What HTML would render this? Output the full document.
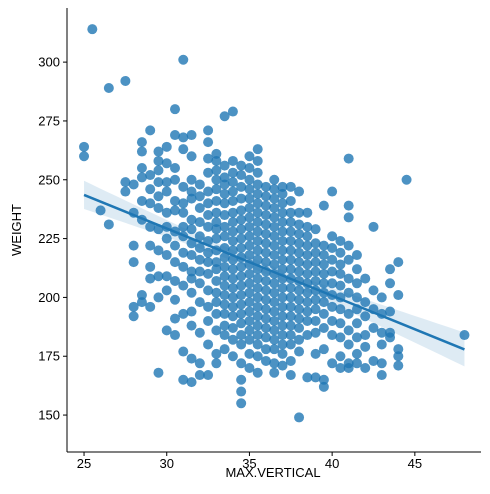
<!DOCTYPE html>
<html><head><meta charset="utf-8"><style>
body{margin:0;background:#fff;}
svg text{font-family:"Liberation Sans","DejaVu Sans",sans-serif;font-size:13px;fill:#000;}
</style></head><body>
<svg id="chart" width="490" height="489" xmlns="http://www.w3.org/2000/svg">
<g id="band"></g>
<g id="pts"></g>
<g id="reg"></g>
<g id="axes"></g>
<text x="273" y="477" text-anchor="middle">MAX.VERTICAL</text>
<text transform="translate(21,230) rotate(-90)" text-anchor="middle">WEIGHT</text>
</svg>
<script>
const xCols = [25,25.5,26,26.5,27.5,28,28.5,29,29.5,30,30.5,31,31.5,32,32.5,33,33.5,34,34.5,35,35.5,36,36.5,37,37.5,38,38.5,39,39.5,40,40.5,41,41.5,42,42.5,43,43.5,44,44.5,48];
const weights = [
[264,260],[314],[237],[289,231],[292,249,245],[248,236,222,215,196,192],
[266,262,255,251,241,233,201,198],[271,252,246,240,230,222,213,208,196],
[262,258,254,249,243,238,229,220,209,200,168],[264,257,249,245,236,230,225,218,209,203,186],
[280,269,255,250,241,237,228,222,215,207,199,191,184],
[301,268,263,247,240,236,230,226,219,213,205,193,177,165],
[269,260,250,245,242,233,229,223,218,211,208,202,194,188,174,164],
[248,243,238,232,226,221,216,211,206,198,185,172,167],
[271,266,259,253,245,240,235,230,224,219,215,210,203,196,190,180,167],
[261,258,254,250,246,241,236,232,229,225,220,215,212,207,202,198,193,186,176,172],
[277,256,251,248,244,240,235,230,226,221,217,213,209,205,201,197,193,188,184,178],
[279,258,253,249,245,241,236,232,228,224,220,216,212,208,204,200,196,192,187,182,175],
[256,252,247,242,237,233,229,225,221,217,213,209,205,201,197,193,189,184,180,172,165,160,155],
[260,255,250,246,242,238,234,230,226,222,218,214,210,206,202,198,194,190,186,182,176,170],
[263,258,253,248,244,240,236,232,228,224,220,216,212,208,204,200,196,192,188,184,180,175,168],
[247,243,239,235,231,227,223,219,215,211,207,203,199,195,191,187,183,178,173],
[250,246,242,238,234,230,226,222,218,214,210,206,202,198,194,190,186,182,178,172,168],
[247,244,240,236,232,228,224,220,216,212,208,204,200,196,192,188,184,180,176,171],
[247,241,236,232,228,224,220,216,212,208,204,200,196,192,188,184,180,173,167],
[245,236,231,227,223,219,215,211,207,203,199,195,191,187,182,177,149],
[236,230,226,222,218,214,210,206,202,198,194,190,184,166],
[229,223,219,215,211,207,203,199,195,190,185,176,166],
[239,222,218,214,210,206,202,198,193,187,178,165,162],
[245,226,221,216,211,206,201,196,190,184,172],
[224,219,214,210,205,200,195,189,183,175,170],
[259,239,234,222,216,208,202,193,186,180,172,170],
[218,212,206,200,195,189,183,176,172],
[208,198,192,184,179,170],[230,203,195,187,173],[200,193,185,180,172,167],
[212,206,194,185,183],[215,201,178,175,171],[250],[184]];
const xTicks = [25,30,35,40,45];
const yTicks = [150,175,200,225,250,275,300];

const NS="http://www.w3.org/2000/svg";
const X0=67,X1=481,Y0=8,Y1=452;
const xMin=23.97,xMax=49.0,yMin=134.3,yMax=323.0;
const sx=v=>X0+(v-xMin)/(xMax-xMin)*(X1-X0);
const sy=v=>Y1-(v-yMin)/(yMax-yMin)*(Y1-Y0);
function mk(tag,attrs,parent){const e=document.createElementNS(NS,tag);for(const k in attrs)e.setAttribute(k,attrs[k]);parent.appendChild(e);return e;}

const xs=[],ys=[];
xCols.forEach((x,i)=>weights[i].forEach(w=>{xs.push(x);ys.push(w);}));
const pts=document.getElementById('pts');
xs.forEach((x,i)=>{
  const c=mk('circle',{cx:sx(x),cy:sy(ys[i]),r:5,fill:'#1f77b4','fill-opacity':0.8},pts);
  
  
});
const n=xs.length,mx=xs.reduce((a,b)=>a+b)/n,my=ys.reduce((a,b)=>a+b)/n;
let sxx=0,sxy=0;xs.forEach((x,i)=>{sxx+=(x-mx)**2;sxy+=(x-mx)*(ys[i]-my);});
const b=sxy/sxx,a=my-b*mx;
let sse=0;xs.forEach((x,i)=>{sse+=(ys[i]-a-b*x)**2;});
const s=Math.sqrt(sse/(n-2));
const lo=Math.min(...xs),hi=Math.max(...xs);
const up=[],dn=[];
for(let k=0;k<=50;k++){const x=lo+(hi-lo)*k/50;const y=a+b*x;const hw=1.96*s*Math.sqrt(1/n+(x-mx)**2/sxx)*0.95;
 up.push(sx(x)+','+sy(y+hw));dn.unshift(sx(x)+','+sy(y-hw));}
const band=mk('polygon',{points:up.concat(dn).join(' '),fill:'#1f77b4','fill-opacity':0.15},document.getElementById('band'));


const ln=mk('line',{x1:sx(lo),y1:sy(a+b*lo),x2:sx(hi),y2:sy(a+b*hi),stroke:'#1f77b4','stroke-width':2.5},document.getElementById('reg'));


const ax=document.getElementById('axes');
mk('line',{x1:X0,y1:Y0,x2:X0,y2:Y1,stroke:'#000','stroke-width':1},ax);
mk('line',{x1:X0,y1:Y1,x2:X1,y2:Y1,stroke:'#000','stroke-width':1},ax);
xTicks.forEach(t=>{const p=sx(t);mk('line',{x1:p,y1:Y1,x2:p,y2:Y1+4,stroke:'#000'},ax);
 const tx=mk('text',{x:p,y:Y1+16,'text-anchor':'middle'},ax);tx.textContent=t;
 
 });
yTicks.forEach(t=>{const p=sy(t);mk('line',{x1:X0-4,y1:p,x2:X0,y2:p,stroke:'#000'},ax);
 const tx=mk('text',{x:X0-7,y:p+4.5,'text-anchor':'end'},ax);tx.textContent=t;
 
 });
</script>
</body></html>
